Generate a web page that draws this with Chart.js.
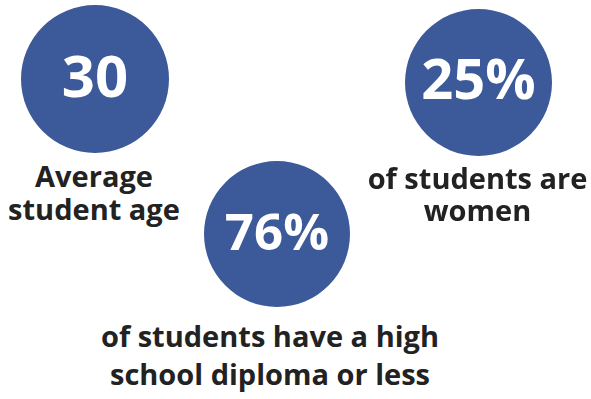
<!DOCTYPE html>
<html>
<head>
<meta charset="utf-8">
<script src="https://cdn.jsdelivr.net/npm/chart.js@4"></script>
<style>
  html, body { margin: 0; padding: 0; background: #fff; }
  #board { position: relative; width: 591px; height: 399px; overflow: hidden; }
  .dot { position: absolute; }
  .caption {
    position: absolute;
    font-family: "Open Sans", sans-serif;
    font-weight: 700;
    font-size: 29px;
    color: #222;
    text-align: center;
    white-space: nowrap;
  }
</style>
</head>
<body>
<div id="board">
  <div class="dot" style="left:21px;top:5px;"><canvas id="c0" width="148" height="148"></canvas></div>
  <div class="dot" style="left:405px;top:9px;"><canvas id="c1" width="147" height="147"></canvas></div>
  <div class="dot" style="left:204px;top:161px;"><canvas id="c2" width="146" height="146"></canvas></div>
  <div class="caption" id="t0" style="left:-16px;top:159px;width:220px;line-height:33px;"></div>
  <div class="caption" id="t1" style="left:347px;top:162px;width:261px;line-height:32px;"></div>
  <div class="caption" id="t2" style="left:50px;top:317px;width:440px;line-height:38px;"></div>
</div>
<script>
// stats shown in the three circles
var statValues = [30, 25, 76];
var statUnits = ["", "%", "%"];
var statCaptions = [
  ["Average", "student age"],
  ["of students are", "women"],
  ["of students have a high", "school diploma or less"]
];

var circleColor = "#3c5a9a";
var numSizes = [58, 56, 51];

// writes the value in the middle of the pie
var centerText = {
  id: "centerText",
  afterDraw: function(chart) {
    var arc = chart.getDatasetMeta(0).data[0];
    var ctx = chart.ctx;
    var txt = chart.data.datasets[0].data[0] + chart.options.unit;
    ctx.save();
    ctx.fillStyle = "#fff";
    ctx.font = "700 " + chart.options.numSize + "px 'Open Sans', sans-serif";
    ctx.textAlign = "center";
    ctx.textBaseline = "middle";
    ctx.fillText(txt, arc.x, arc.y + 1);
    ctx.restore();
  }
};

for (var i = 0; i < statValues.length; i++) {
  var ctx = document.getElementById("c" + i).getContext("2d");
  new Chart(ctx, {
    type: "pie",
    data: {
      labels: [statCaptions[i].join(" ")],
      datasets: [{
        data: [statValues[i]],
        backgroundColor: [circleColor],
        borderWidth: 0
      }]
    },
    options: {
      responsive: false,
      animation: false,
      unit: statUnits[i],
      numSize: numSizes[i],
      layout: { padding: 0 },
      plugins: { legend: { display: false }, tooltip: { enabled: false } }
    },
    plugins: [centerText]
  });
  document.getElementById("t" + i).innerHTML = statCaptions[i].join("<br>");
}
</script>
</body>
</html>
